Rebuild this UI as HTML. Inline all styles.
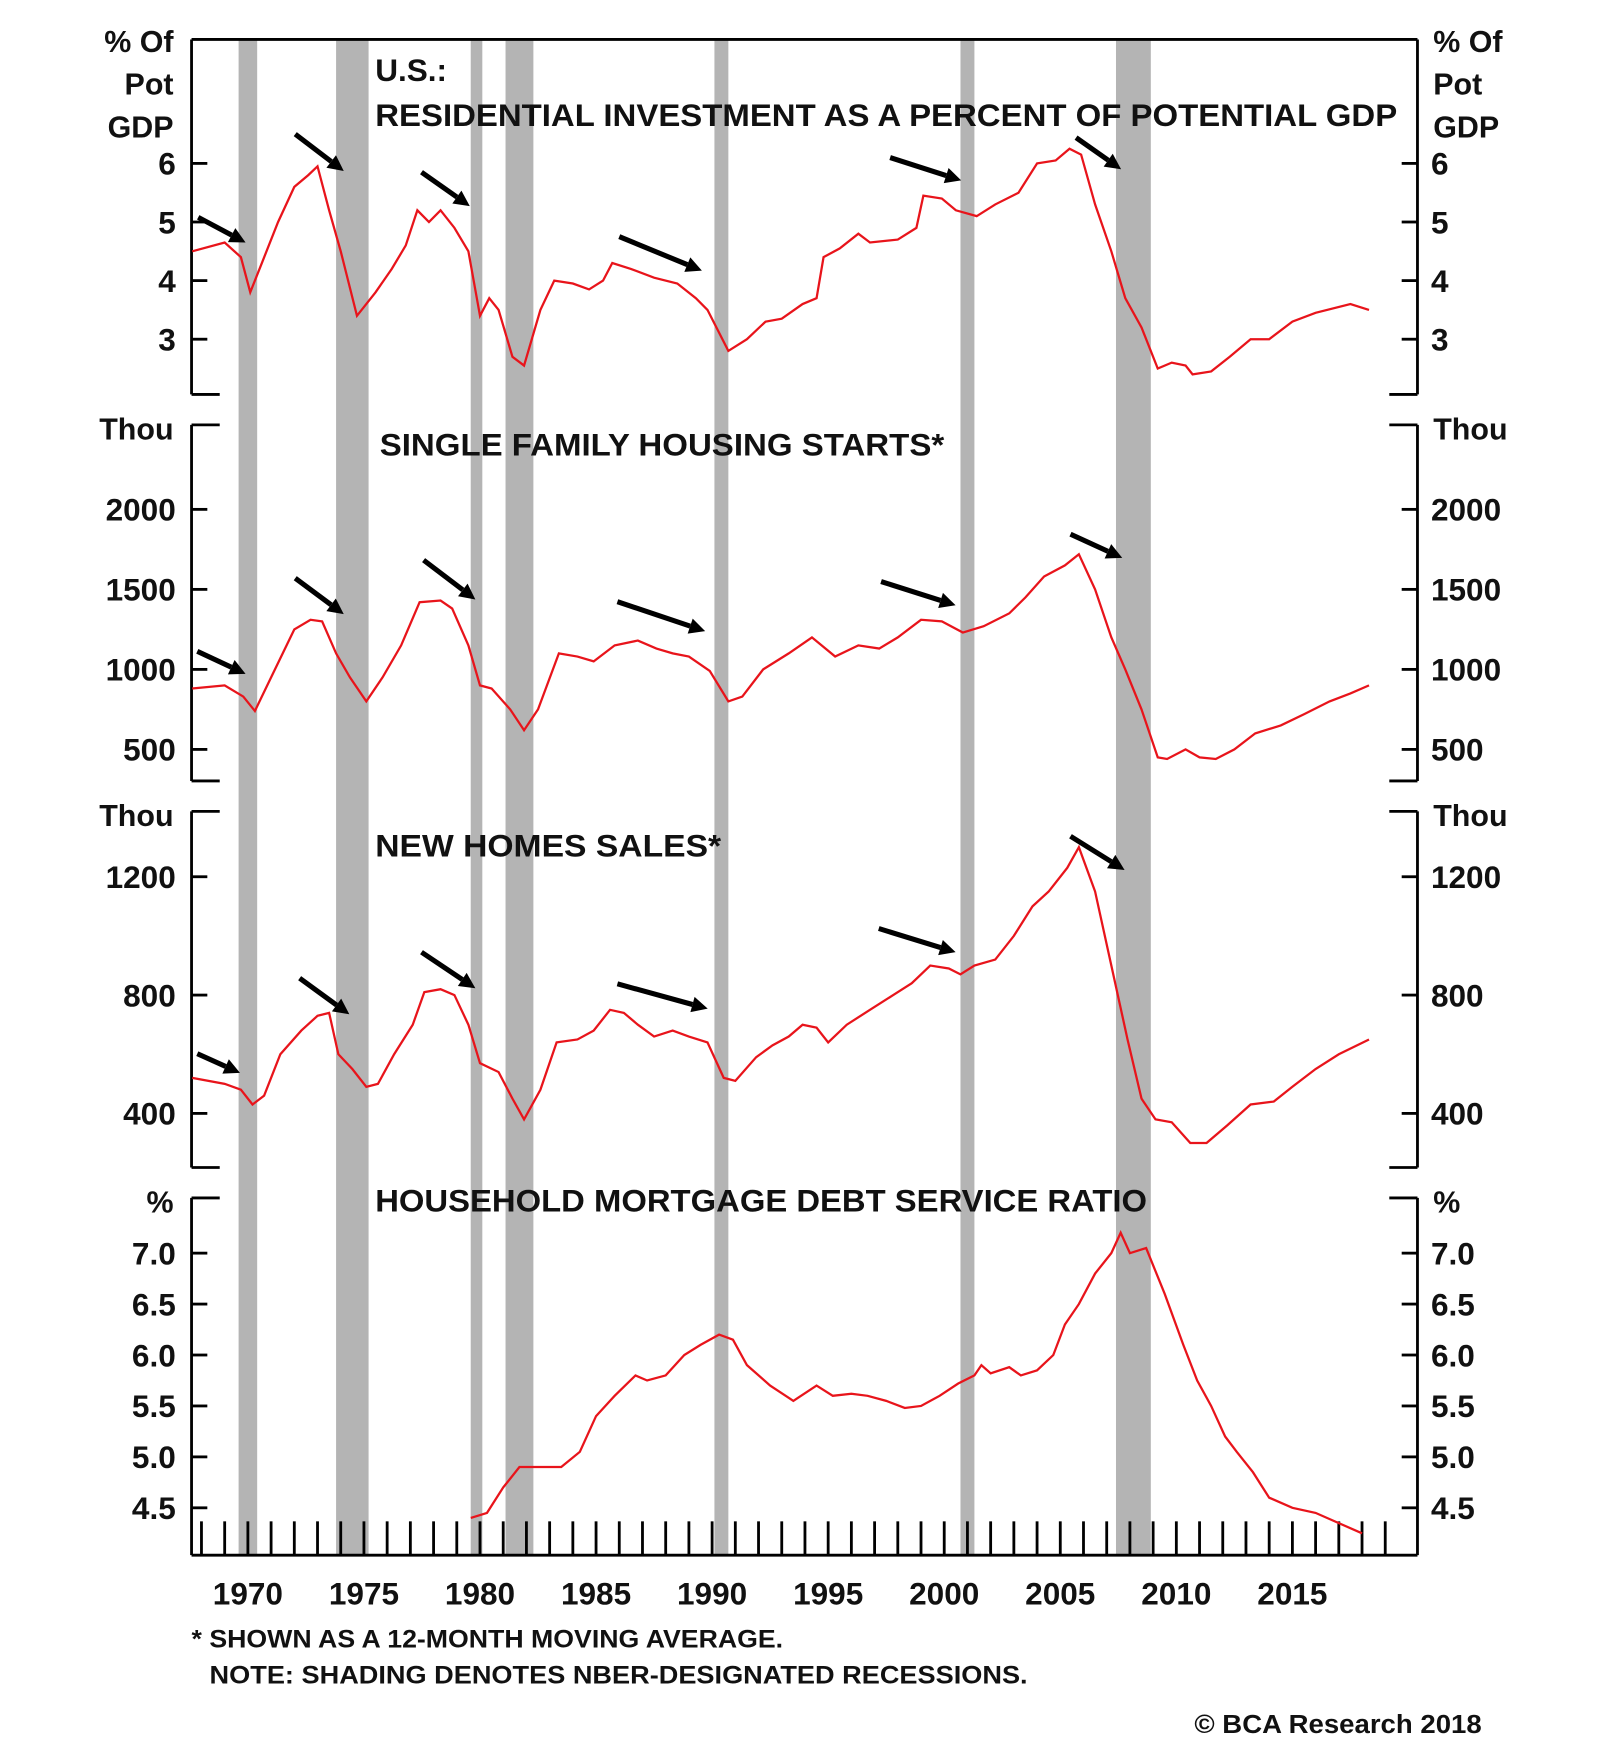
<!DOCTYPE html>
<html><head><meta charset="utf-8"><style>
html,body{margin:0;padding:0;background:#fff;}
svg{display:block;}
text{font-family:"Liberation Sans",sans-serif;font-weight:bold;fill:#111;}
</style></head><body>
<svg id="chart" width="1600" height="1758" viewBox="0 0 1420 1560" preserveAspectRatio="none" xmlns="http://www.w3.org/2000/svg">
<g id="shade"></g>
<g id="axes"></g>
<g id="lines"></g>
<g id="arrows"></g>
<g id="labels"></g>
</svg>
<script>
const recessions=[[1969.6,1970.4],[1973.8,1975.2],[1979.6,1980.1],[1981.1,1982.3],[1990.1,1990.7],[2000.7,2001.3],[2007.4,2008.9]];
const yearTicks=[1970,1975,1980,1985,1990,1995,2000,2005,2010,2015];
const p1Ticks=[6,5,4,3];
const p2Ticks=[2000,1500,1000,500];
const p3Ticks=[1200,800,400];
const p4Ticks=[7.0,6.5,6.0,5.5,5.0,4.5];
const resYears=[1967.6,1969,1969.7,1970.1,1970.6,1971.3,1972,1972.6,1973.0,1973.5,1974,1974.7,1975.5,1976.2,1976.8,1977.3,1977.8,1978.3,1978.9,1979.5,1980.0,1980.4,1980.8,1981.4,1981.9,1982.6,1983.2,1984,1984.7,1985.3,1985.7,1986.5,1987.5,1988.5,1989.3,1989.8,1990.7,1991.5,1992.3,1993,1993.9,1994.5,1994.8,1995.5,1996.3,1996.8,1998,1998.8,1999.1,1999.9,2000.5,2001.4,2002.2,2003.2,2004,2004.8,2005.4,2005.9,2006.5,2007.2,2007.8,2008.5,2009.2,2009.8,2010.4,2010.7,2011.5,2012.3,2013.2,2014,2015,2016,2017.5,2018.3];
const resVals=[4.5,4.65,4.4,3.8,4.3,5.0,5.6,5.8,5.95,5.2,4.5,3.4,3.8,4.2,4.6,5.2,5.0,5.2,4.9,4.5,3.4,3.7,3.5,2.7,2.55,3.5,4.0,3.95,3.85,4.0,4.3,4.2,4.05,3.95,3.7,3.5,2.8,3.0,3.3,3.35,3.6,3.7,4.4,4.55,4.8,4.65,4.7,4.9,5.45,5.4,5.2,5.1,5.3,5.5,6.0,6.05,6.25,6.15,5.3,4.5,3.7,3.2,2.5,2.6,2.55,2.4,2.45,2.7,3.0,3.0,3.3,3.45,3.6,3.5];
const stYears=[1967.6,1969,1969.8,1970.3,1971,1972,1972.7,1973.2,1973.8,1974.4,1975.1,1975.8,1976.6,1977.4,1978.3,1978.8,1979.5,1980,1980.5,1981.3,1981.9,1982.5,1983.4,1984.2,1984.9,1985.8,1986.8,1987.6,1988.3,1989,1989.9,1990.7,1991.3,1992.2,1993.3,1994.3,1995.3,1996.3,1997.2,1998,1999,1999.9,2000.8,2001.7,2002.8,2003.5,2004.3,2005.2,2005.8,2006.5,2007.2,2007.8,2008.5,2009.2,2009.6,2010.4,2011,2011.7,2012.5,2013.4,2014.5,2015.5,2016.6,2017.5,2018.3];
const stVals=[880,900,830,740,950,1250,1310,1300,1100,950,800,950,1150,1420,1430,1380,1150,900,880,750,620,750,1100,1080,1050,1150,1180,1130,1100,1080,990,800,830,1000,1100,1200,1080,1150,1130,1200,1310,1300,1230,1270,1350,1450,1580,1650,1720,1500,1200,1000,750,450,440,500,450,440,500,600,650,720,800,850,900];
const slYears=[1967.6,1969,1969.7,1970.2,1970.7,1971.4,1972.3,1973,1973.5,1973.9,1974.5,1975.1,1975.6,1976.3,1977.1,1977.6,1978.3,1978.9,1979.5,1980,1980.8,1981.4,1981.9,1982.6,1983.3,1984.2,1984.9,1985.6,1986.2,1986.8,1987.5,1988.3,1989,1989.8,1990.5,1991,1991.9,1992.6,1993.3,1993.9,1994.5,1995,1995.8,1996.8,1997.8,1998.6,1999.4,2000.2,2000.7,2001.3,2002.2,2003,2003.8,2004.5,2005.3,2005.8,2006.5,2007.2,2007.9,2008.5,2009.1,2009.8,2010.6,2011.3,2012.2,2013.2,2014.2,2015,2016,2017,2018.3];
const slVals=[520,500,480,430,460,600,680,730,740,600,550,490,500,600,700,810,820,800,700,570,540,450,380,480,640,650,680,750,740,700,660,680,660,640,520,510,590,630,660,700,690,640,700,750,800,840,900,890,870,900,920,1000,1100,1150,1230,1300,1150,900,650,450,380,370,300,300,360,430,440,490,550,600,650];
const dsYears=[1979.6,1980.3,1981,1981.7,1982.5,1983.5,1984.3,1985,1985.8,1986.7,1987.2,1988,1988.8,1989.5,1990.3,1990.9,1991.5,1992.5,1993.5,1994.5,1995.2,1996,1996.7,1997.5,1998.3,1999,1999.8,2000.6,2001.3,2001.6,2002,2002.8,2003.3,2004,2004.7,2005.2,2005.8,2006.5,2007.2,2007.6,2008.0,2008.7,2009.5,2010.3,2010.9,2011.5,2012.1,2012.6,2013.3,2014,2015,2016,2017,2018];
const dsVals=[4.4,4.45,4.7,4.9,4.9,4.9,5.05,5.4,5.6,5.8,5.75,5.8,6.0,6.1,6.2,6.15,5.9,5.7,5.55,5.7,5.6,5.62,5.6,5.55,5.48,5.5,5.6,5.72,5.8,5.9,5.82,5.88,5.8,5.85,6.0,6.3,6.5,6.8,7.0,7.2,7.0,7.05,6.6,6.1,5.75,5.5,5.2,5.05,4.85,4.6,4.5,4.45,4.35,4.25];
const arrows1=[[1967.86,5.08,1969.9,4.65],[1972.04,6.5,1974.13,5.87],[1977.48,5.85,1979.56,5.27],[1986.0,4.75,1989.56,4.17],[1997.67,6.1,2000.73,5.71],[2005.68,6.44,2007.62,5.9]];
const arrows2=[[1967.82,1113,1969.9,972],[1972.04,1570,1974.13,1345],[1977.57,1683,1979.8,1437],[1985.92,1423,1989.7,1239],[1997.28,1549,2000.49,1401],[2005.44,1845,2007.67,1697]];
const arrows3=[[1967.82,602,1969.66,537],[1972.23,857,1974.37,735],[1977.48,945,1979.8,823],[1985.92,838,1989.81,754],[1997.18,1025,2000.49,945],[2005.44,1337,2007.77,1223]];

const NS='http://www.w3.org/2000/svg';
const L=170,R=1258;
const x=y=>220+(y-1970)*20.6;
const panels=[
 {top:35,bot:350,v0:6,y0:145,ppu:52,ticks:p1Ticks,fmt:v=>String(v),lab:['% Of','Pot','GDP'],full:true},
 {top:377,bot:693,v0:2000,y0:452,ppu:71/500,ticks:p2Ticks,fmt:v=>String(v),lab:['Thou']},
 {top:720,bot:1036,v0:1200,y0:778,ppu:105/400,ticks:p3Ticks,fmt:v=>String(v),lab:['Thou']},
 {top:1063,bot:1380,v0:7,y0:1112,ppu:90.4,ticks:p4Ticks,fmt:v=>v.toFixed(1),lab:['%'],last:true}
];
panels.forEach(p=>{p.y=v=>p.y0+(p.v0-v)*p.ppu;});
function el(tag,attrs,parent,txt){const e=document.createElementNS(NS,tag);for(const k in attrs)e.setAttribute(k,attrs[k]);if(txt!==undefined)e.textContent=txt;document.getElementById(parent).appendChild(e);return e;}
// shading
recessions.forEach(r=>{const e=el('rect',{x:x(r[0]),y:35,width:x(r[1])-x(r[0]),height:1345,fill:'#b4b4b4'},'shade');

});
// axes
panels.forEach((p,i)=>{
 const st={stroke:'#000','stroke-width':2.5,fill:'none'};
 el('line',Object.assign({x1:L,y1:p.top,x2:L,y2:p.bot},st),'axes');
 el('line',Object.assign({x1:R,y1:p.top,x2:R,y2:p.bot},st),'axes');
 if(p.full) el('line',Object.assign({x1:L,y1:p.top,x2:R,y2:p.top},st),'axes');
 else {el('line',Object.assign({x1:L,y1:p.top,x2:L+25,y2:p.top},st),'axes');el('line',Object.assign({x1:R-25,y1:p.top,x2:R,y2:p.top},st),'axes');}
 if(p.last) el('line',Object.assign({x1:L,y1:p.bot,x2:R,y2:p.bot},st),'axes');
 else {el('line',Object.assign({x1:L,y1:p.bot,x2:L+25,y2:p.bot},st),'axes');el('line',Object.assign({x1:R-25,y1:p.bot,x2:R,y2:p.bot},st),'axes');}
 p.ticks.forEach(v=>{const yy=p.y(v);
  el('line',Object.assign({x1:L,y1:yy,x2:L+14,y2:yy},st),'axes');
  el('line',Object.assign({x1:R-14,y1:yy,x2:R,y2:yy},st),'axes');
  const t1=el('text',{x:156,y:yy+10,'text-anchor':'end','font-size':28},'labels',p.fmt(v));
  
  
  const t2=el('text',{x:1270,y:yy+10,'font-size':28},'labels',p.fmt(v));
  
  
 });
 const base=p.full?46:p.top+13;
 p.lab.forEach((s,j)=>{
  const a=el('text',{x:154,y:base+j*38,'text-anchor':'end','font-size':27},'labels',s);
  
  
  const b=el('text',{x:1272,y:base+j*38,'font-size':27},'labels',s);
  
  
 });
});
for(let yr=1968;yr<=2019;yr++){el('line',{x1:x(yr),y1:1350,x2:x(yr),y2:1380,stroke:'#000','stroke-width':2.5},'axes');}
yearTicks.forEach(yr=>{const t=el('text',{x:x(yr),y:1424,'text-anchor':'middle','font-size':28},'labels',String(yr));

});
// lines
function line(xs,vs,p,name){const d=xs.map((a,i)=>(i?'L':'M')+x(a).toFixed(1)+' '+p.y(vs[i]).toFixed(1)).join(' ');
 const e=el('path',{d:d,fill:'none',stroke:'#e8141b','stroke-width':2},'lines');
 
 }
line(resYears,resVals,panels[0],'residential-investment-line');
line(stYears,stVals,panels[1],'housing-starts-line');
line(slYears,slVals,panels[2],'new-home-sales-line');
line(dsYears,dsVals,panels[3],'debt-service-ratio-line');
// arrows
function arr(list,p){list.forEach(a=>{const x1=x(a[0]),y1=p.y(a[1]),x2=x(a[2]),y2=p.y(a[3]);
 const ang=Math.atan2(y2-y1,x2-x1),h=14,w=7;
 const bx=x2-h*Math.cos(ang),by=y2-h*Math.sin(ang);
 const e=el('line',{x1:x1,y1:y1,x2:bx,y2:by,stroke:'#000','stroke-width':4.5},'arrows');
 
 
 const px=-Math.sin(ang)*w,py=Math.cos(ang)*w;
 el('polygon',{points:`${x2},${y2} ${bx+px},${by+py} ${bx-px},${by-py}`,fill:'#000'},'arrows');});}
arr(arrows1,panels[0]);arr(arrows2,panels[1]);arr(arrows3,panels[2]);
// titles
const titles=[['U.S.:',333,72,null],['RESIDENTIAL INVESTMENT AS A PERCENT OF POTENTIAL GDP',333,112,907],['SINGLE FAMILY HOUSING STARTS*',337,404,501],['NEW HOMES SALES*',333,760,307],['HOUSEHOLD MORTGAGE DEBT SERVICE RATIO',333,1075,685]];
titles.forEach(t=>{const a={x:t[1],y:t[2],'font-size':28};if(t[3]){a.textLength=t[3];a.lengthAdjust='spacingAndGlyphs';}
 const e=el('text',a,'labels',t[0]);
 
 });
const notes=[['* SHOWN AS A 12-MONTH MOVING AVERAGE.',170,1462,525,22],['NOTE: SHADING DENOTES NBER-DESIGNATED RECESSIONS.',186,1494,726,22],['© BCA Research 2018',1060,1538,255,23]];
notes.forEach(t=>{const e=el('text',{x:t[1],y:t[2],'font-size':t[4],textLength:t[3],lengthAdjust:'spacingAndGlyphs'},'labels',t[0]);
 
 });
</script>
</body></html>
